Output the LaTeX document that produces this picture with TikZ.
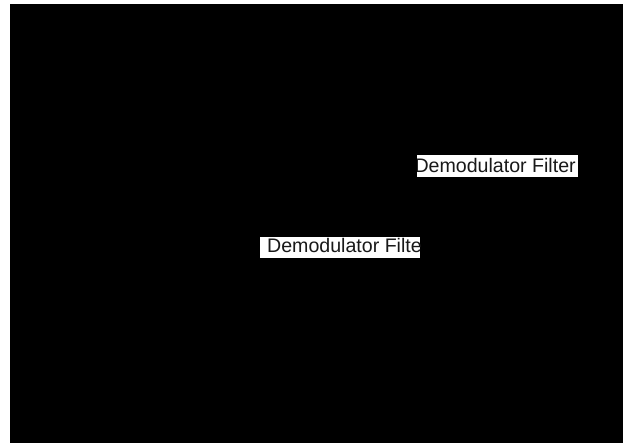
\documentclass[tikz,border=0pt]{standalone}
\usepackage{fontspec}
\setmainfont{Liberation Sans}
\usepackage{tikz}
\usetikzlibrary{positioning}

\begin{document}
\begin{tikzpicture}[
  x=1pt, y=-1pt,
  lbl/.style={inner sep=0pt, anchor=base west, font=\fontsize{19.6}{22}\selectfont, text=black!90},
  pad/.style={fill=white}
]
  \useasboundingbox (0,0) rectangle (623,443);
  \fill[black] (10,4) rectangle (623,443);

  % upper label, cut at its left edge
  \begin{scope}
    \clip (417,155) rectangle (578,177);
    \fill[pad] (417,155) rectangle (578,177);
    \node[lbl] (demodA) at (414.3,172.5) {Demodulator Filter};
  \end{scope}

  % lower label, cut at its right edge
  \begin{scope}
    \clip (260,237) rectangle (420,258);
    \fill[pad] (260,237) rectangle (420,258);
    \node[lbl] (demodB) at (261.5,253) {\ Demodulator Filter};
  \end{scope}
\end{tikzpicture}
\end{document}
